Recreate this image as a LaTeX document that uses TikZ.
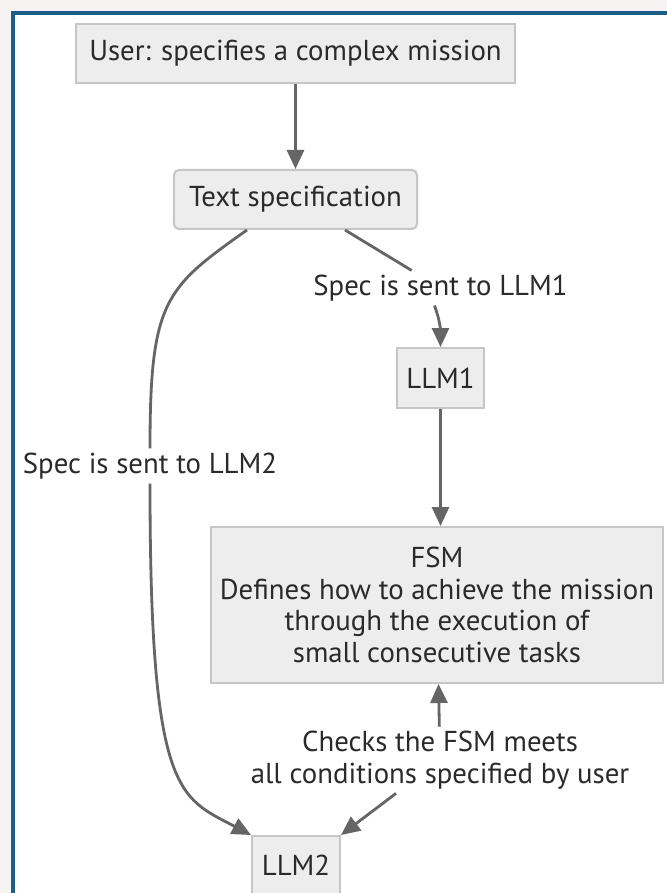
\documentclass[tikz,border=0pt]{standalone}
\usepackage{fontspec}
\setmainfont{PT Sans}
\usepackage{xcolor}
\usepackage{tikz}
\usetikzlibrary{arrows.meta,positioning,calc}
\definecolor{boxfill}{HTML}{EDEDED}
\definecolor{boxline}{HTML}{C6C6C6}
\definecolor{linec}{HTML}{656565}
\definecolor{textc}{HTML}{2A2A2A}
\definecolor{framec}{HTML}{1B5E88}
\definecolor{pagebg}{HTML}{F6F3F2}

\begin{document}
\begin{tikzpicture}[
    font=\fontsize{14.4}{15.75}\selectfont,
    text=textc,
    box/.style={
      draw=boxline, fill=boxfill, line width=1pt, align=center,
      minimum height=29.5pt, inner sep=3pt},
    lbl/.style={align=center, inner sep=2pt},
    flow/.style={-{Triangle[length=9.5pt,width=8.5pt]}, draw=linec, line width=1.4pt},
    link/.style={draw=linec, line width=1.4pt}
  ]

  % --- page and frame
  \path[use as bounding box, fill=pagebg] (-147.75pt,-419.75pt) rectangle (185.75pt,26.75pt);
  \draw[framec, line width=2pt, fill=white] (-141.25pt,-440pt) rectangle (200pt,20.25pt);

  % --- mission
  \node[box, minimum width=219.5pt] (user) {User: specifies a complex mission};

  % --- spec
  \node[box, rounded corners=2.5pt, minimum width=121.5pt, below=42.5pt of user]
    (spec) {Text specification};

  % --- llm1
  \node[box, minimum width=43.5pt, minimum height=30pt, below=58.5pt of spec, xshift=72.5pt]
    (llm1) {LLM1};

  % --- fsm
  \node[box, minimum width=226pt, minimum height=78pt, below=58.5pt of llm1, xshift=-1.75pt]
    (fsm) {FSM\\Defines how to achieve the mission\\through the execution of\\small consecutive tasks};

  % --- llm2
  \node[box, minimum width=44pt, below=75.5pt of fsm, xshift=-70.5pt]
    (llm2) {LLM2};

  % --- edge labels
  \node[lbl] (send1) at ($(spec.south -| llm1)+(0,-29pt)$) {Spec is sent to LLM1};
  \node[lbl] (send2) at ($(spec.south)+(-72.75pt,-118pt)$) {Spec is sent to LLM2};
  \node[lbl] (check) at ($(fsm.south)+(1.5pt,-38pt)$)
    {Checks the FSM meets\\all conditions specified by user};

  % --- flows
  \draw[flow] (user) -- (spec);
  \draw[link] ([xshift=24.75pt]spec.south) -- (send1);
  \draw[flow] ([xshift=-3pt]send1.south) to[out=-70, in=90] (llm1);
  \draw[flow] (llm1) -- (llm1 |- fsm.north);
  \draw[link] ([xshift=-24.25pt]spec.south) .. controls +(-41pt,-29pt) and +(0,74pt) .. (send2.north);
  \draw[flow] (send2.south) .. controls +(0,-156pt) and +(-36pt,19pt) .. (llm2.north west);
  \draw[flow] (check) -- (fsm);
  \draw[flow] (check) -- (llm2.north east);

\end{tikzpicture}
\end{document}
